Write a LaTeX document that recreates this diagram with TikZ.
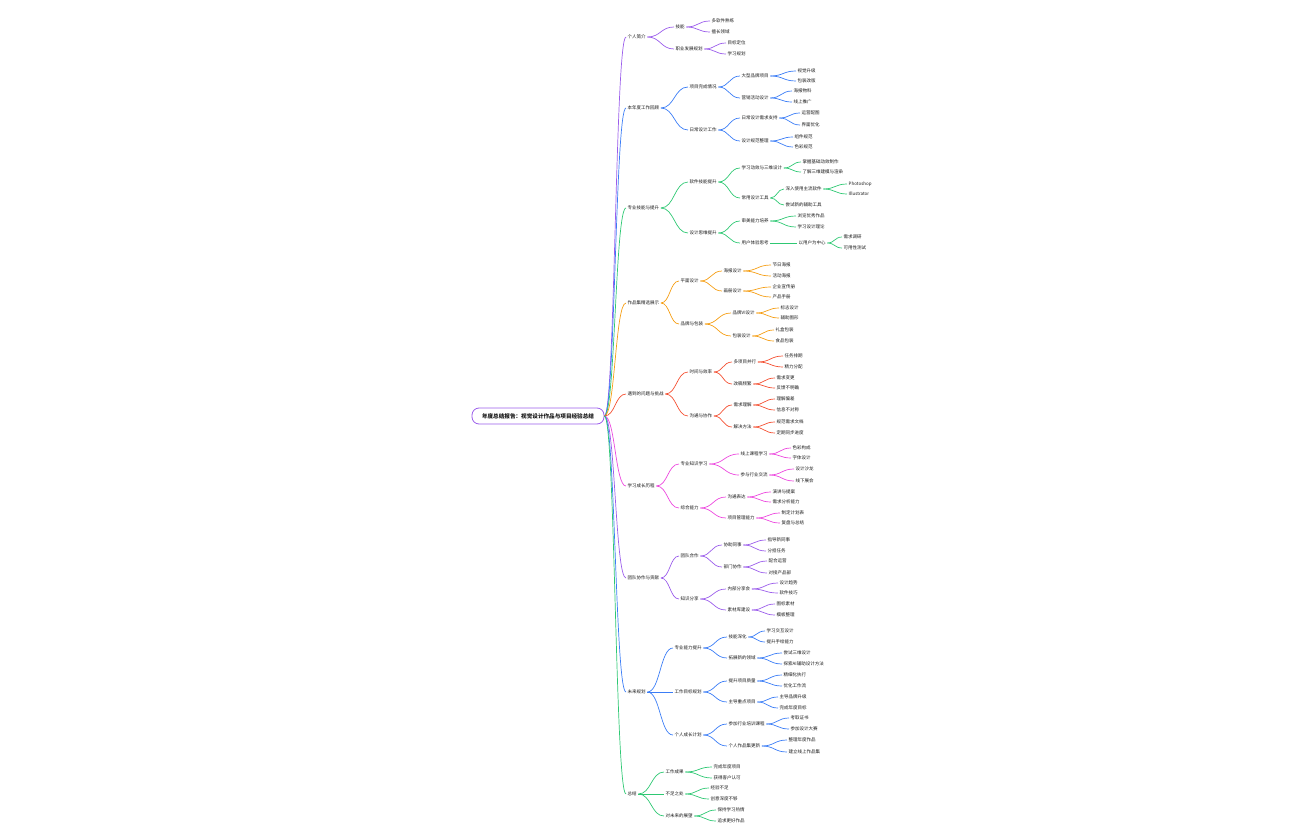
\documentclass[tikz,border=0pt]{standalone}
\usepackage{fontspec}
\newfontfamily\cjk{Noto Sans CJK SC}
\usepackage{tikz}
\usetikzlibrary{calc}

\definecolor{txt}{RGB}{25,25,25}
\definecolor{cpurple}{RGB}{155,93,235}
\definecolor{cblue}{RGB}{59,125,246}
\definecolor{cgreen}{RGB}{46,200,115}
\definecolor{corange}{RGB}{245,158,20}
\definecolor{cred}{RGB}{244,80,50}
\definecolor{cpink}{RGB}{236,72,222}

\begin{document}
\begin{tikzpicture}[x=1pt,y=-1pt,
  topic/.style={anchor=west,inner xsep=1.5pt,inner ysep=1pt,text=txt,font=\cjk\fontsize{4.5}{5}\selectfont},
  link/.style={line width=0.7pt,to path={let \p1=(\tikztostart),\p2=(\tikztotarget),\n1={0.5*(\x2-\x1)} in
    (\p1) .. controls +(\n1,0) and +(-\n1,0) .. (\p2)}}]
\useasboundingbox (0,0) rectangle (1296,840);

\node[draw=cpurple,line width=0.8pt,rounded corners=7pt,fill=white,minimum width=132pt,minimum height=16pt,inner sep=1pt,text=txt,font=\cjk\bfseries\fontsize{5.6}{6}\selectfont] (root) at (538,416) {年度总结报告：视觉设计作品与项目经验总结};

% 个人简介
\node[topic] (b1) at (626,37) {个人简介};
\node[topic] (b1a) at (674,27) {技能};
\node[topic] (b1b) at (674,49) {职业发展规划};
\node[topic] (b1a1) at (710,21) {多软件熟练};
\node[topic] (b1a2) at (710,32) {擅长领域};
\node[topic] (b1b1) at (726,43) {目标定位};
\node[topic] (b1b2) at (726,54) {学习规划};
\foreach \u/\v in {root/b1,b1/b1a,b1/b1b,b1a/b1a1,b1a/b1a2,b1b/b1b1,b1b/b1b2}
  \draw[link,cpurple] (\u.east) to (\v.west);

% 工作回顾
\node[topic] (b2) at (626,108) {本年度工作回顾};
\node[topic] (b2a) at (688,87) {项目完成情况};
\node[topic] (b2b) at (688,130) {日常设计工作};
\node[topic] (b2a1) at (740,76) {大型品牌项目};
\node[topic] (b2a2) at (740,98) {营销活动设计};
\node[topic] (b2b1) at (740,118) {日常设计需求支持};
\node[topic] (b2b2) at (740,141) {设计规范整理};
\node[topic] (b2a1a) at (796,71) {视觉升级};
\node[topic] (b2a1b) at (796,81) {包装改版};
\node[topic] (b2a2a) at (792,91) {海报物料};
\node[topic] (b2a2b) at (792,102) {线上推广};
\node[topic] (b2b1a) at (800,113) {运营配图};
\node[topic] (b2b1b) at (800,125) {界面优化};
\node[topic] (b2b2a) at (793,137) {组件规范};
\node[topic] (b2b2b) at (793,147) {色彩规范};
\foreach \u/\v in {root/b2,b2/b2a,b2/b2b,b2a/b2a1,b2a/b2a2,b2b/b2b1,b2b/b2b2,
  b2a1/b2a1a,b2a1/b2a1b,b2a2/b2a2a,b2a2/b2a2b,b2b1/b2b1a,b2b1/b2b1b,b2b2/b2b2a,b2b2/b2b2b}
  \draw[link,cblue] (\u.east) to (\v.west);

% 技能提升
\node[topic] (b3) at (626,208) {专业技能与提升};
\node[topic] (b3a) at (688,182) {软件技能提升};
\node[topic] (b3b) at (688,233) {设计思维提升};
\node[topic] (b3a1) at (740,168) {学习动效与三维设计};
\node[topic] (b3a2) at (740,198) {常用设计工具};
\node[topic] (b3b1) at (740,221) {审美能力培养};
\node[topic] (b3b2) at (740,243) {用户体验思考};
\node[topic] (b3a1a) at (801,162) {掌握基础动效制作};
\node[topic] (b3a1b) at (801,172) {了解三维建模与渲染};
\node[topic] (b3a2a) at (784,189) {深入使用主流软件};
\node[topic] (b3a2b) at (784,205) {尝试新的辅助工具};
\node[topic] (b3a2a1) at (847,184) {Photoshop};
\node[topic] (b3a2a2) at (847,194) {Illustrator};
\node[topic] (b3b1a) at (796,216) {浏览优秀作品};
\node[topic] (b3b1b) at (796,227) {学习设计理论};
\node[topic] (b3b2a) at (797,243) {以用户为中心};
\node[topic] (b3b2a1) at (842,237) {需求调研};
\node[topic] (b3b2a2) at (842,248) {可用性测试};
\foreach \u/\v in {root/b3,b3/b3a,b3/b3b,b3a/b3a1,b3a/b3a2,b3b/b3b1,b3b/b3b2,
  b3a1/b3a1a,b3a1/b3a1b,b3a2/b3a2a,b3a2/b3a2b,b3a2a/b3a2a1,b3a2a/b3a2a2,
  b3b1/b3b1a,b3b1/b3b1b,b3b2/b3b2a,b3b2a/b3b2a1,b3b2a/b3b2a2}
  \draw[link,cgreen] (\u.east) to (\v.west);

% 作品展示
\node[topic] (b4) at (626,303) {作品集精选展示};
\node[topic] (b4a) at (679,281) {平面设计};
\node[topic] (b4b) at (679,324) {品牌与包装};
\node[topic] (b4a1) at (722,271) {海报设计};
\node[topic] (b4a2) at (722,291) {画册设计};
\node[topic] (b4b1) at (731,313) {品牌VI设计};
\node[topic] (b4b2) at (731,336) {包装设计};
\node[topic] (b4a1a) at (771,265) {节日海报};
\node[topic] (b4a1b) at (771,276) {活动海报};
\node[topic] (b4a2a) at (771,287) {企业宣传册};
\node[topic] (b4a2b) at (771,297) {产品手册};
\node[topic] (b4b1a) at (779,308) {标志设计};
\node[topic] (b4b1b) at (779,318) {辅助图形};
\node[topic] (b4b2a) at (774,330) {礼盒包装};
\node[topic] (b4b2b) at (774,341) {食品包装};
\foreach \u/\v in {root/b4,b4/b4a,b4/b4b,b4a/b4a1,b4a/b4a2,b4b/b4b1,b4b/b4b2,
  b4a1/b4a1a,b4a1/b4a1b,b4a2/b4a2a,b4a2/b4a2b,b4b1/b4b1a,b4b1/b4b1b,b4b2/b4b2a,b4b2/b4b2b}
  \draw[link,corange] (\u.east) to (\v.west);

% 问题与挑战
\node[topic] (b5) at (626,394) {遇到的问题与挑战};
\node[topic] (b5a) at (688,372) {时间与效率};
\node[topic] (b5b) at (688,416) {沟通与协作};
\node[topic] (b5a1) at (732,362) {多项目并行};
\node[topic] (b5a2) at (732,384) {改稿频繁};
\node[topic] (b5b1) at (732,405) {需求理解};
\node[topic] (b5b2) at (732,427) {解决方法};
\node[topic] (b5a1a) at (783,356) {任务排期};
\node[topic] (b5a1b) at (783,367) {精力分配};
\node[topic] (b5a2a) at (775,378) {需求变更};
\node[topic] (b5a2b) at (775,388) {反馈不明确};
\node[topic] (b5b1a) at (775,399) {理解偏差};
\node[topic] (b5b1b) at (775,410) {信息不对称};
\node[topic] (b5b2a) at (775,422) {规范需求文档};
\node[topic] (b5b2b) at (775,433) {定期同步进度};
\foreach \u/\v in {root/b5,b5/b5a,b5/b5b,b5a/b5a1,b5a/b5a2,b5b/b5b1,b5b/b5b2,
  b5a1/b5a1a,b5a1/b5a1b,b5a2/b5a2a,b5a2/b5a2b,b5b1/b5b1a,b5b1/b5b1b,b5b2/b5b2a,b5b2/b5b2b}
  \draw[link,cred] (\u.east) to (\v.west);

% 学习成长
\node[topic] (b6) at (626,486) {学习成长历程};
\node[topic] (b6a) at (679,464) {专业知识学习};
\node[topic] (b6b) at (679,508) {综合能力};
\node[topic] (b6a1) at (739,454) {线上课程学习};
\node[topic] (b6a2) at (739,475) {参与行业交流};
\node[topic] (b6b1) at (726,497) {沟通表达};
\node[topic] (b6b2) at (726,518) {项目管理能力};
\node[topic] (b6a1a) at (791,448) {色彩构成};
\node[topic] (b6a1b) at (791,458) {字体设计};
\node[topic] (b6a2a) at (794,469) {设计沙龙};
\node[topic] (b6a2b) at (794,481) {线下展会};
\node[topic] (b6b1a) at (771,492) {演讲与提案};
\node[topic] (b6b1b) at (771,502) {需求分析能力};
\node[topic] (b6b2a) at (780,513) {制定计划表};
\node[topic] (b6b2b) at (780,523) {复盘与总结};
\foreach \u/\v in {root/b6,b6/b6a,b6/b6b,b6a/b6a1,b6a/b6a2,b6b/b6b1,b6b/b6b2,
  b6a1/b6a1a,b6a1/b6a1b,b6a2/b6a2a,b6a2/b6a2b,b6b1/b6b1a,b6b1/b6b1b,b6b2/b6b2a,b6b2/b6b2b}
  \draw[link,cpink] (\u.east) to (\v.west);

% 团队协作
\node[topic] (b7) at (626,578) {团队协作与贡献};
\node[topic] (b7a) at (679,556) {团队合作};
\node[topic] (b7b) at (679,599) {知识分享};
\node[topic] (b7a1) at (722,545) {协助同事};
\node[topic] (b7a2) at (722,567) {部门协作};
\node[topic] (b7b1) at (726,589) {内部分享会};
\node[topic] (b7b2) at (726,610) {素材库建设};
\node[topic] (b7a1a) at (766,540) {指导新同事};
\node[topic] (b7a1b) at (766,551) {分担任务};
\node[topic] (b7a2a) at (767,561) {配合运营};
\node[topic] (b7a2b) at (767,573) {对接产品部};
\node[topic] (b7b1a) at (778,583) {设计趋势};
\node[topic] (b7b1b) at (778,593) {软件技巧};
\node[topic] (b7b2a) at (775,604) {图标素材};
\node[topic] (b7b2b) at (775,615) {模板整理};
\foreach \u/\v in {root/b7,b7/b7a,b7/b7b,b7a/b7a1,b7a/b7a2,b7b/b7b1,b7b/b7b2,
  b7a1/b7a1a,b7a1/b7a1b,b7a2/b7a2a,b7a2/b7a2b,b7b1/b7b1a,b7b1/b7b1b,b7b2/b7b2a,b7b2/b7b2b}
  \draw[link,cpurple] (\u.east) to (\v.west);

% 未来规划
\node[topic] (b8) at (626,692) {未来规划};
\node[topic] (b8a) at (673,648) {专业能力提升};
\node[topic] (b8b) at (673,692) {工作目标规划};
\node[topic] (b8c) at (673,735) {个人成长计划};
\node[topic] (b8a1) at (727,637) {技能深化};
\node[topic] (b8a2) at (727,658) {拓展新的领域};
\node[topic] (b8b1) at (727,681) {提升项目质量};
\node[topic] (b8b2) at (727,702) {主导重点项目};
\node[topic] (b8c1) at (727,724) {参加行业培训课程};
\node[topic] (b8c2) at (727,746) {个人作品集更新};
\node[topic] (b8a1a) at (765,631) {学习交互设计};
\node[topic] (b8a1b) at (765,642) {提升手绘能力};
\node[topic] (b8a2a) at (782,653) {尝试三维设计};
\node[topic] (b8a2b) at (782,664) {探索AI辅助设计方法};
\node[topic] (b8b1a) at (782,675) {精细化执行};
\node[topic] (b8b1b) at (782,686) {优化工作流};
\node[topic] (b8b2a) at (778,697) {主导品牌升级};
\node[topic] (b8b2b) at (778,708) {完成年度目标};
\node[topic] (b8c1a) at (789,718) {考取证书};
\node[topic] (b8c1b) at (789,729) {参加设计大赛};
\node[topic] (b8c2a) at (787,740) {整理年度作品};
\node[topic] (b8c2b) at (787,752) {建立线上作品集};
\foreach \u/\v in {root/b8,b8/b8a,b8/b8b,b8/b8c,b8a/b8a1,b8a/b8a2,b8b/b8b1,b8b/b8b2,b8c/b8c1,b8c/b8c2,
  b8a1/b8a1a,b8a1/b8a1b,b8a2/b8a2a,b8a2/b8a2b,b8b1/b8b1a,b8b1/b8b1b,b8b2/b8b2a,b8b2/b8b2b,
  b8c1/b8c1a,b8c1/b8c1b,b8c2/b8c2a,b8c2/b8c2b}
  \draw[link,cblue] (\u.east) to (\v.west);

% 总结
\node[topic] (b9) at (626,794) {总结};
\node[topic] (b9a) at (664,772) {工作成果};
\node[topic] (b9b) at (664,794) {不足之处};
\node[topic] (b9c) at (664,816) {对未来的展望};
\node[topic] (b9a1) at (712,767) {完成年度项目};
\node[topic] (b9a2) at (712,778) {获得客户认可};
\node[topic] (b9b1) at (709,788) {经验不足};
\node[topic] (b9b2) at (709,799) {创意深度不够};
\node[topic] (b9c1) at (716,810) {保持学习热情};
\node[topic] (b9c2) at (716,821) {追求更好作品};
\foreach \u/\v in {root/b9,b9/b9a,b9/b9b,b9/b9c,b9a/b9a1,b9a/b9a2,b9b/b9b1,b9b/b9b2,b9c/b9c1,b9c/b9c2}
  \draw[link,cgreen] (\u.east) to (\v.west);
\end{tikzpicture}
\end{document}
